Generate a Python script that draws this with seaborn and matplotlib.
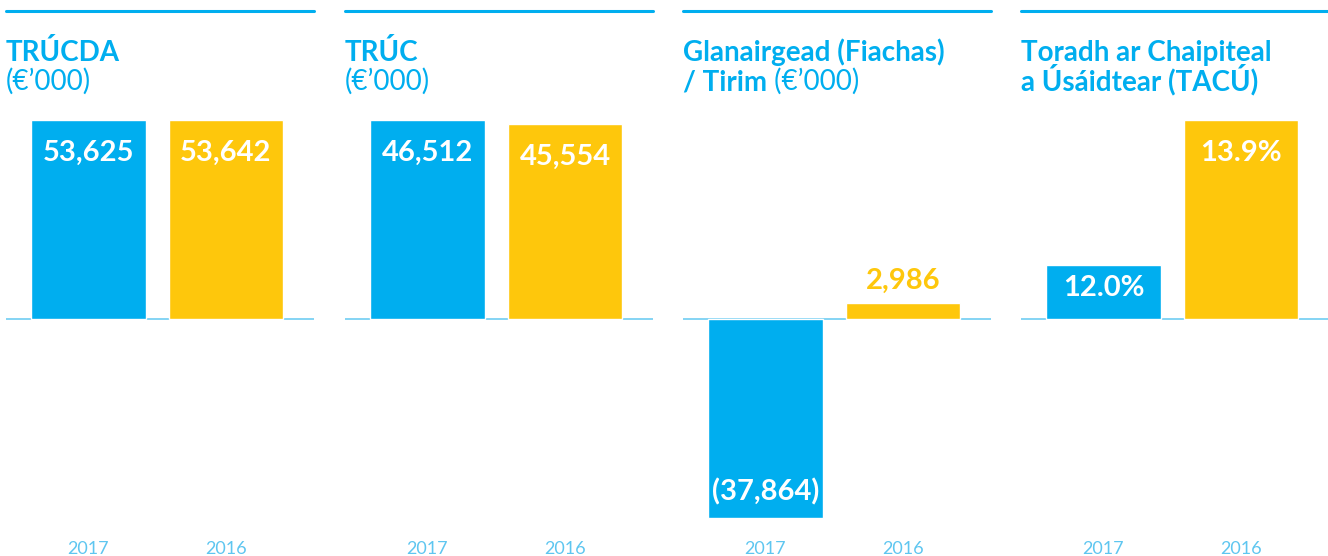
import pandas as pd
import numpy as np
import seaborn as sns
import matplotlib.pyplot as plt
from matplotlib.lines import Line2D
from matplotlib.transforms import blended_transform_factory

sns.set_style("white")
plt.rcParams['font.family'] = ['Lato', 'DejaVu Sans']

# data
years = ["2017", "2016"]
title_line1 = ["TRÚCDA", "TRÚC", "Glanairgead (Fiachas)", "Toradh ar Chaipiteal"]
title_line2 = ["", "", "/ Tirim", "a Úsáidtear (TACÚ)"]
units = ["(€’000)", "(€’000)", "(€’000)", ""]
values = [
    [53625, 53642],
    [46512, 45554],
    [-37864, 2986],
    [12.0, 13.9],
]
labels = [
    ["53,625", "53,642"],
    ["46,512", "45,554"],
    ["(37,864)", "2,986"],
    ["12.0%", "13.9%"],
]
# panel 4 is not drawn from zero in the original
floors = [0, 0, 0, 11.3]

blue = "#00AEEF"
yellow = "#FEC70C"
line_blue = "#6FCDF2"
year_blue = "#5EC6F0"

W, H = 1328, 556
fig = plt.figure(figsize=(W / 100, H / 100), dpi=100)

lefts = [6, 345, 683, 1021]
pw = 308
ax_top, ax_bot = 118, 520

def fy(py):
    return (H - py) / H

for i in range(4):
    ax = fig.add_axes([lefts[i] / W, fy(ax_bot), pw / W, (ax_bot - ax_top) / H])
    base = floors[i]
    df = pd.DataFrame({"year": years, "value": values[i]})
    df["bar"] = df["value"] - base
    sns.barplot(data=df, x="year", y="bar", hue="year", order=years,
                palette=[blue, yellow], saturation=1, width=0.83, bottom=base,
                legend=False, ax=ax)
    m = df["bar"].abs().max() * 1.01
    ax.set_ylim(base - m, base + m)
    ax.set_xlim(-0.6, 1.64)
    ax.axhline(base, color=line_blue, lw=1.2, zorder=0)
    sns.despine(ax=ax, left=True, bottom=True)
    ax.set_yticks([])
    ax.set_xlabel("")
    ax.set_ylabel("")
    ax.tick_params(axis="x", length=0, pad=15, labelsize=13, labelcolor=year_blue)

    # value labels
    for j, v in enumerate(values[i]):
        h = abs(v - base) / (2 * m) * (ax_bot - ax_top)
        kw = dict(textcoords="offset pixels", ha="center", va="center",
                  fontsize=21, fontweight="bold", color="white")
        if v < base:
            ax.annotate(labels[i][j], (j, v), xytext=(0, 26), **kw)
        elif h < 40:
            kw["color"] = [blue, yellow][j]
            ax.annotate(labels[i][j], (j, v), xytext=(0, 22), **kw)
        elif h < 90:
            ax.annotate(labels[i][j], (j, v), xytext=(0, -23), **kw)
        else:
            ax.annotate(labels[i][j], (j, v), xytext=(0, -33), **kw)

    # top rule and titles
    tr = blended_transform_factory(ax.transAxes, fig.transFigure)
    ax.add_line(Line2D([0, 1], [fy(10.5), fy(10.5)], transform=tr, color=blue,
                       lw=2.2, clip_on=False))
    ax.text(0, fy(61), title_line1[i], transform=tr, ha="left", va="baseline",
            color=blue, fontsize=20, fontweight="bold")
    if title_line2[i]:
        t2 = ax.text(0, fy(90), title_line2[i], transform=tr, ha="left", va="baseline",
                     color=blue, fontsize=20, fontweight="bold")
        if units[i]:
            ax.annotate(" " + units[i], xy=(1, 0), xycoords=t2, ha="left", va="bottom",
                        color=blue, fontsize=20, fontweight="normal")
    elif units[i]:
        ax.text(0, fy(90), units[i], transform=tr, ha="left", va="baseline",
                color=blue, fontsize=20, fontweight="normal")

fig.savefig("out.png", dpi=100)
